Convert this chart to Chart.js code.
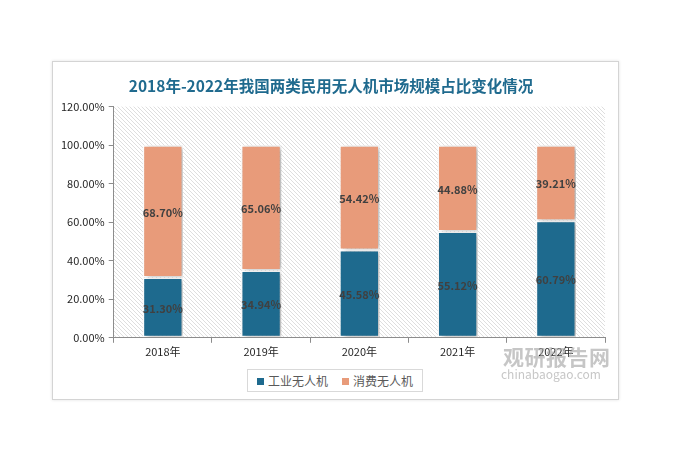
<!DOCTYPE html>
<html>
<head>
<meta charset="utf-8">
<script src="https://cdn.jsdelivr.net/npm/chart.js@4/dist/chart.umd.min.js"></script>
<style>
  html, body { margin: 0; padding: 0; background: #fff; width: 673px; height: 454px; overflow: hidden; }
  #card {
    position: absolute; left: 52px; top: 61px; width: 567px; height: 339px;
    background: #fff; border: 1px solid #d4d4d4; box-sizing: border-box;
    box-shadow: 0 0 3px rgba(0,0,0,0.12);
  }
  #card canvas { display: block; }
  #legend {
    position: absolute; left: 247px; top: 369px; width: 176px; height: 23px; box-sizing: border-box;
    border: 1px solid #d9d9d9; background: #fff;
    font-family: 'Noto Sans CJK SC', sans-serif; font-size: 12px; color: #595959;
    display: flex; align-items: center; justify-content: center; gap: 14px;
  }
  #legend span.sw { display: inline-block; width: 7px; height: 7px; margin-right: 4px; vertical-align: 1px; }
  #wm { position: absolute; left: 503px; top: 341px; font-family: 'Noto Sans CJK SC', sans-serif; color: rgba(160,160,160,0.6); pointer-events: none; }
  #wm .big { font-size: 21px; font-weight: bold; letter-spacing: 0.5px; }
  #wm .small { font-size: 12px; margin-top: -6px; margin-left: -2px; }
</style>
</head>
<body>
<div id="card"><canvas id="c" width="565" height="337"></canvas></div>
<div id="legend"></div>
<div id="wm"><div class="big">观研报告网</div><div class="small">chinabaogao.com</div></div>
<script>
'use strict';

const years = ['2018年', '2019年', '2020年', '2021年', '2022年'];
const industrial = [31.30, 34.94, 45.58, 55.12, 60.79];
const consumer = [68.70, 65.06, 54.42, 44.88, 39.21];
const seriesNames = ['工业无人机', '消费无人机'];

const BLUE = '#1e6a8e';
const ORANGE = '#e89b7a';
const FONT = "'Noto Sans CJK SC', 'Noto Sans', sans-serif";

function hatchPattern(ctx) {
  const p = document.createElement('canvas');
  p.width = 4; p.height = 4;
  const g = p.getContext('2d');
  g.fillStyle = '#fff';
  g.fillRect(0, 0, 4, 4);
  g.fillStyle = '#dedede';
  for (let i = 0; i < 4; i++) g.fillRect(i, i, 1, 1);
  return ctx.createPattern(p, 'repeat');
}

const hatchBg = {
  id: 'hatchBg',
  beforeDraw(chart) {
    const { ctx, chartArea: a } = chart;
    ctx.save();
    ctx.fillStyle = hatchPattern(ctx);
    ctx.fillRect(a.left, a.top, a.right - a.left, a.bottom - a.top);
    ctx.restore();
  }
};

const barShadow = {
  id: 'barShadow',
  beforeDatasetDraw(chart) {
    const ctx = chart.ctx;
    ctx.save();
    ctx.shadowColor = 'rgba(0,0,0,0.3)';
    ctx.shadowBlur = 5;
    ctx.shadowOffsetX = 3;
    ctx.shadowOffsetY = 1;
  },
  afterDatasetDraw(chart) {
    chart.ctx.restore();
  }
};

const valueLabels = {
  id: 'valueLabels',
  afterDatasetsDraw(chart) {
    const ctx = chart.ctx;
    ctx.save();
    ctx.font = 'bold 11px ' + FONT;
    ctx.fillStyle = '#404040';
    ctx.textAlign = 'center';
    ctx.textBaseline = 'middle';
    chart.data.datasets.forEach((ds, i) => {
      chart.getDatasetMeta(i).data.forEach((bar, j) => {
        const mid = (bar.y + bar.base) / 2;
        ctx.fillText(ds.data[j].toFixed(2) + '%', bar.x, mid + 1);
      });
    });
    ctx.restore();
  }
};

const chart = new Chart(document.getElementById('c'), {
  type: 'bar',
  data: {
    labels: years,
    datasets: [
      { label: seriesNames[0], data: industrial, backgroundColor: BLUE, borderColor: '#fff', borderWidth: 1.5, borderSkipped: false },
      { label: seriesNames[1], data: consumer, backgroundColor: ORANGE, borderColor: '#fff', borderWidth: 1.5, borderSkipped: false }
    ]
  },
  plugins: [hatchBg, barShadow, valueLabels],
  options: {
    responsive: false,
    animation: false,
    devicePixelRatio: 1,
    categoryPercentage: 1,
    barPercentage: 0.41,
    layout: { padding: { left: 4, right: 13, top: 8, bottom: 39 } },
    plugins: {
      title: {
        display: true,
        text: '2018年-2022年我国两类民用无人机市场规模占比变化情况',
        color: '#1f6a8e',
        font: { family: FONT, size: 15.5, weight: 'bold' },
        padding: { top: 7, bottom: 11 }
      },
      legend: { display: false },
      tooltip: { enabled: false }
    },
    scales: {
      x: {
        stacked: true,
        grid: { display: true, drawOnChartArea: false, offset: true, color: '#8c8c8c', tickLength: 5 },
        border: { color: '#8c8c8c' },
        ticks: { color: '#262626', font: { family: FONT, size: 11 }, padding: 2 }
      },
      y: {
        stacked: true,
        min: 0, max: 120,
        ticks: {
          stepSize: 20,
          color: '#262626',
          font: { family: FONT, size: 11 },
          padding: 4,
          callback: v => v.toFixed(2) + '%'
        },
        grid: { drawOnChartArea: false, color: '#8c8c8c', tickLength: 5 },
        border: { color: '#8c8c8c' }
      }
    }
  }
});

// html legend built from the datasets
document.getElementById('legend').innerHTML = chart.data.datasets.map(ds =>
  `<div><span class="sw" style="background:${ds.backgroundColor}"></span>${ds.label}</div>`
).join('');
</script>
</body>
</html>
